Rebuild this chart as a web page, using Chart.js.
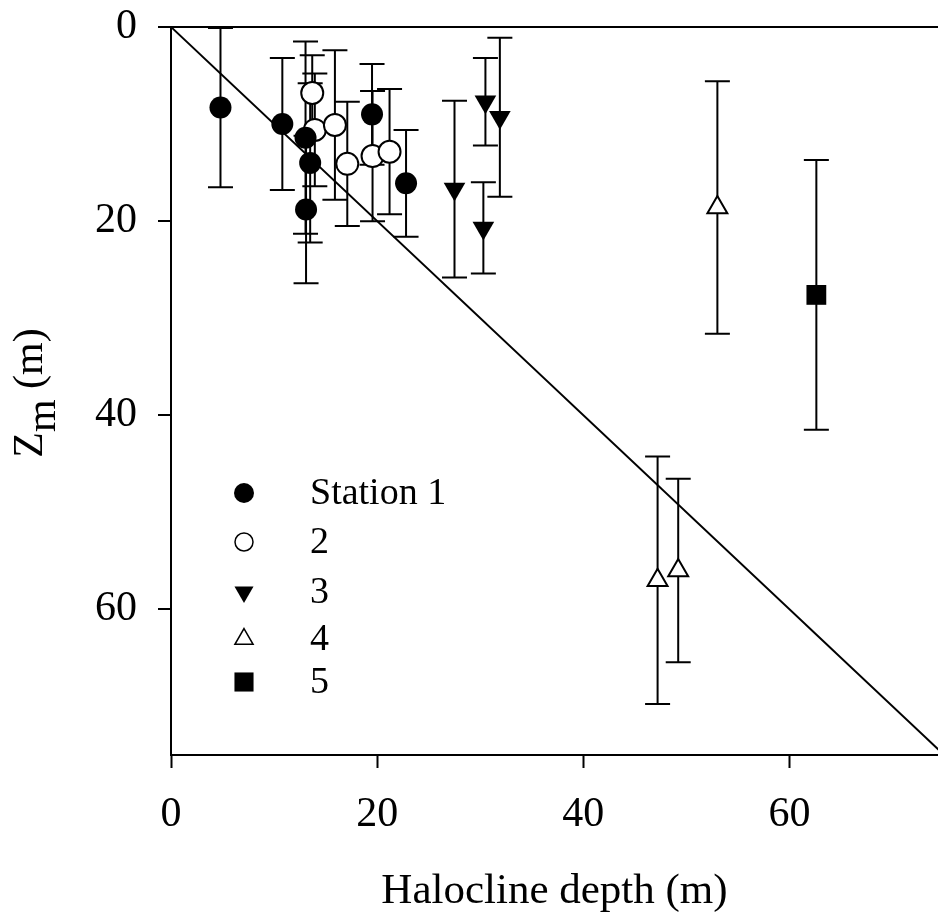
<!DOCTYPE html>
<html>
<head>
<meta charset="utf-8">
<script src="https://cdn.jsdelivr.net/npm/chart.js@4/dist/chart.umd.min.js"></script>
<style>
html, body { margin: 0; padding: 0; background: #fff; }
</style>
</head>
<body>
<canvas id="chart" width="938" height="918"></canvas>
<script>
// halocline depth (x) vs Zm (y), mean +- error per station
const station1X = [4.8, 10.8, 13.05, 13.5, 13.1, 19.5, 22.8];
const station1Y = [8.3, 10.0, 11.4, 14.0, 18.8, 9.0, 16.1];
const station1Err = [8.2, 6.8, 9.9, 8.2, 7.6, 5.2, 5.5];

const station2X = [13.7, 13.95, 15.9, 17.1, 19.55, 21.2];
const station2Y = [6.8, 10.6, 10.1, 14.1, 13.3, 12.85];
const station2Err = [3.9, 5.8, 7.7, 6.4, 6.7, 6.45];

const station3X = [27.5, 30.5, 31.9, 30.3];
const station3Y = [16.7, 7.7, 9.3, 20.7];
const station3Err = [9.1, 4.5, 8.2, 4.7];

const station4X = [53.0, 47.2, 49.2];
const station4Y = [18.6, 57.0, 56.0];
const station4Err = [13.0, 12.75, 9.45];

const station5X = [62.6];
const station5Y = [27.6];
const station5Err = [13.9];

const lineX = [0, 75];
const lineY = [0, 75];

const legendLabels = ["Station 1", "2", "3", "4", "5"];
const tickValues = [0, 20, 40, 60];

const serif = "'Liberation Serif', 'Times New Roman', serif";
Chart.defaults.font.family = serif;
Chart.defaults.color = "#000";

function points(xs, ys) {
    return xs.map((x, i) => ({x: x, y: ys[i]}));
}

const errorBars = {
    id: "errorBars",
    beforeDatasetsDraw(chart) {
        const ctx = chart.ctx;
        const xs = chart.scales.x, ys = chart.scales.y;
        const area = chart.chartArea;
        ctx.save();
        ctx.beginPath();
        ctx.rect(area.left, area.top, area.right - area.left, area.bottom - area.top);
        ctx.clip();
        ctx.strokeStyle = "#000";
        ctx.lineWidth = 2;
        for (let ds of chart.data.datasets) {
            if (!ds.errors) continue;
            ds.data.forEach((p, i) => {
                const px = xs.getPixelForValue(p.x);
                const top = ys.getPixelForValue(p.y - ds.errors[i]);
                const bot = ys.getPixelForValue(p.y + ds.errors[i]);
                ctx.beginPath();
                ctx.moveTo(px, top);
                ctx.lineTo(px, bot);
                ctx.moveTo(px - 12.5, top);
                ctx.lineTo(px + 12.5, top);
                ctx.moveTo(px - 12.5, bot);
                ctx.lineTo(px + 12.5, bot);
                ctx.stroke();
            });
        }
        ctx.restore();
    }
};

const insideLegend = {
    id: "insideLegend",
    afterDraw(chart) {
        const ctx = chart.ctx;
        const sizes = [10, 9, 11, 10.5, 13.5];
        const rows = [493, 542, 592, 639, 682];
        ctx.save();
        chart.data.datasets.forEach((ds, i) => {
            if (!ds.errors) return;
            ctx.fillStyle = ds.backgroundColor;
            ctx.strokeStyle = ds.borderColor;
            ctx.lineWidth = 1.5;
            Chart.helpers.drawPoint(ctx, {
                pointStyle: ds.pointStyle,
                rotation: ds.rotation || 0,
                radius: sizes[i],
                borderWidth: ds.backgroundColor === "#fff" ? 1.5 : 0
            }, 244, rows[i]);
            ctx.fillStyle = "#000";
            ctx.font = "38px " + serif;
            ctx.textBaseline = "middle";
            ctx.fillText(legendLabels[i], 310, rows[i] + 1);
        });
        ctx.restore();
    }
};

const yTitle = {
    id: "yTitle",
    afterDraw(chart) {
        const ctx = chart.ctx;
        const parts = [["Z", 0], ["m", 13], [" (m)", 0]];
        ctx.save();
        ctx.font = "42px " + serif;
        ctx.fillStyle = "#000";
        ctx.textBaseline = "alphabetic";
        let total = 0;
        for (let p of parts) total += ctx.measureText(p[0]).width;
        ctx.translate(42, 393);
        ctx.rotate(-Math.PI / 2);
        let pos = -total / 2;
        for (let p of parts) {
            ctx.fillText(p[0], pos, p[1]);
            pos += ctx.measureText(p[0]).width;
        }
        ctx.restore();
    }
};

function stationSet(xs, ys, errs, style, fill, radius, rotation) {
    return {
        type: "scatter",
        data: points(xs, ys),
        errors: errs,
        pointStyle: style,
        rotation: rotation,
        pointRotation: rotation,
        pointRadius: radius,
        pointHoverRadius: radius,
        backgroundColor: fill,
        borderColor: "#000",
        pointBorderWidth: fill === "#fff" ? 2 : 0,
        order: 1
    };
}

new Chart("chart", {
    type: "scatter",
    data: {
        datasets: [
            stationSet(station1X, station1Y, station1Err, "circle", "#000", 11, 0),
            stationSet(station2X, station2Y, station2Err, "circle", "#fff", 11, 0),
            stationSet(station3X, station3Y, station3Err, "triangle", "#000", 12.5, 180),
            stationSet(station4X, station4Y, station4Err, "triangle", "#fff", 11.5, 0),
            stationSet(station5X, station5Y, station5Err, "rect", "#000", 14, 0),
            {
                type: "line",
                data: points(lineX, lineY),
                borderColor: "#000",
                borderWidth: 2,
                pointRadius: 0,
                fill: false,
                order: 5
            }
        ]
    },
    options: {
        responsive: false,
        devicePixelRatio: 1,
        animation: false,
        events: [],
        layout: {autoPadding: false, padding: {top: 27, left: 0, right: 0, bottom: 0}},
        plugins: {
            legend: {display: false},
            tooltip: {enabled: false}
        },
        scales: {
            x: {
                type: "linear",
                min: 0,
                max: 74.4,
                afterFit(scale) {
                    scale.height = 163;
                    scale.paddingLeft = 0;
                    scale.paddingRight = 0;
                },
                afterBuildTicks(scale) { scale.ticks = tickValues.map(v => ({value: v})); },
                grid: {drawOnChartArea: false, tickLength: 13, tickColor: "#000", tickWidth: 2},
                border: {display: true, color: "#000", width: 2},
                ticks: {font: {size: 42}, color: "#000", padding: 22, maxRotation: 0},
                title: {
                    display: true,
                    text: "Halocline depth (m)",
                    font: {size: 43},
                    color: "#000",
                    padding: {top: 0, bottom: 0}
                }
            },
            y: {
                type: "linear",
                reverse: true,
                min: 0,
                max: 75,
                afterFit(scale) {
                    scale.width = 171;
                    scale.paddingTop = 0;
                    scale.paddingBottom = 0;
                },
                afterBuildTicks(scale) { scale.ticks = tickValues.map(v => ({value: v})); },
                grid: {
                    drawOnChartArea: true,
                    color: (c) => (c.tick && c.tick.value === 0) ? "#000" : "rgba(0,0,0,0)",
                    lineWidth: 2,
                    tickLength: 13,
                    tickColor: "#000",
                    tickWidth: 2
                },
                border: {display: true, color: "#000", width: 2},
                ticks: {font: {size: 42}, color: "#000", padding: 21}
            }
        }
    },
    plugins: [errorBars, insideLegend, yTitle]
});
</script>
</body>
</html>
